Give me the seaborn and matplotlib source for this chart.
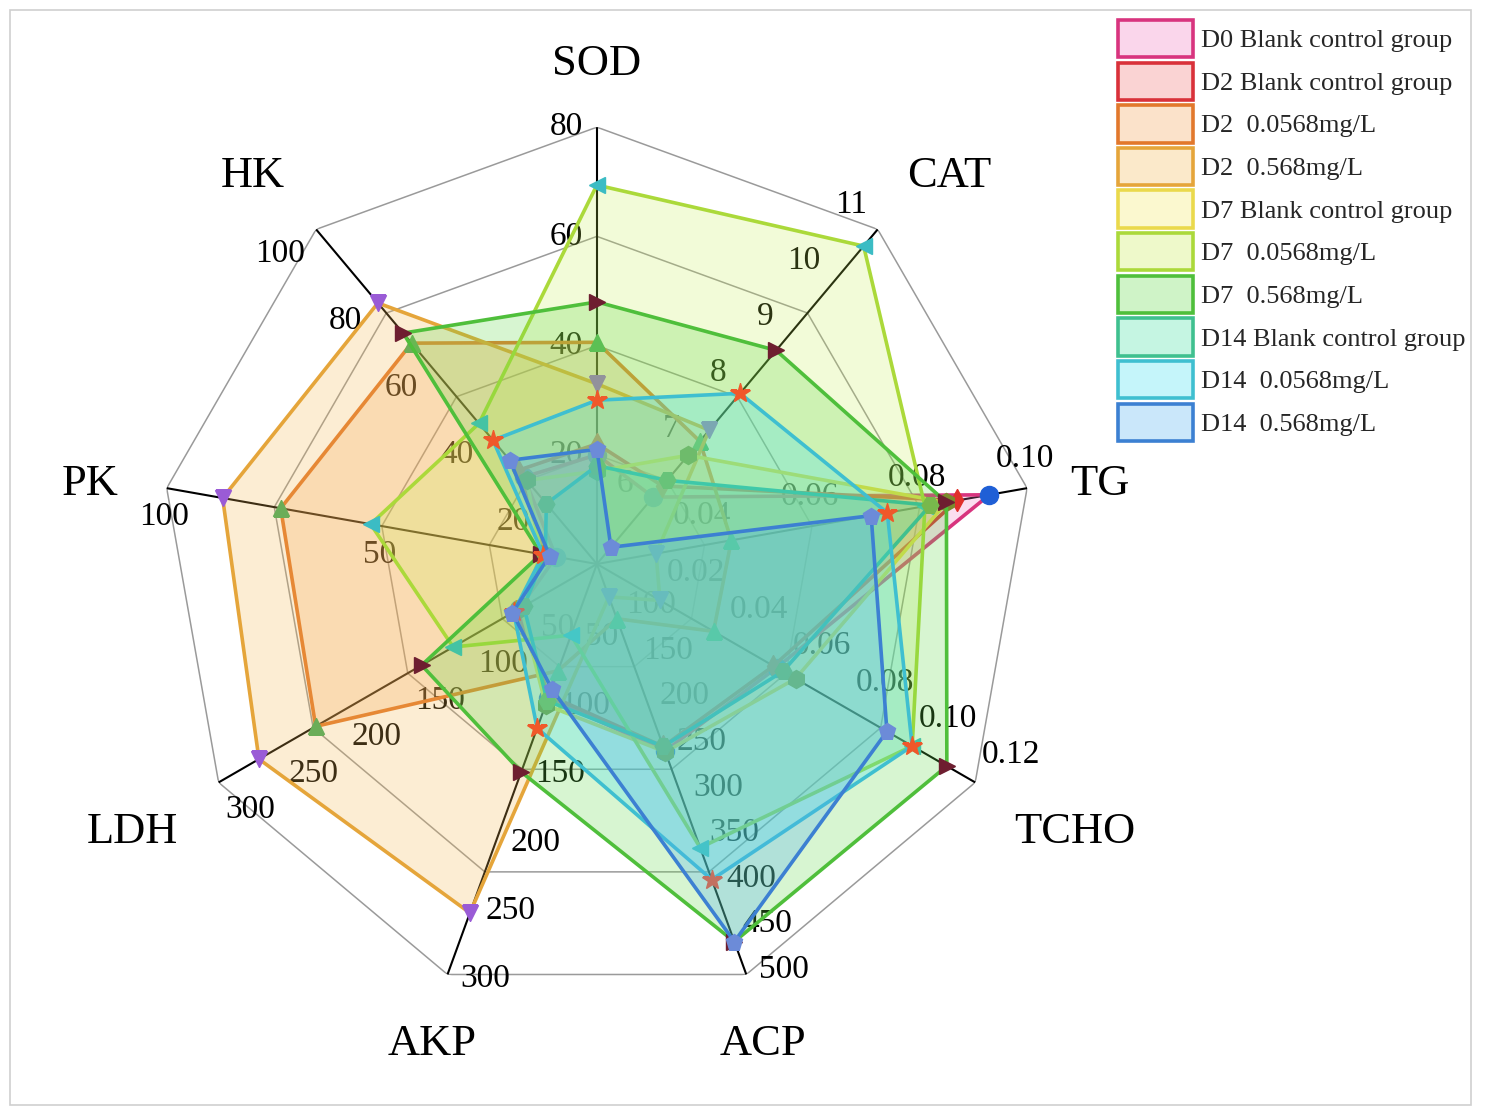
import numpy as np
import matplotlib
matplotlib.use("Agg")
import matplotlib.pyplot as plt
from matplotlib.patches import Patch, Rectangle
import seaborn as sns

# radar axes, clockwise from the top, each with its own scale
indicators = ["SOD", "CAT", "TG", "TCHO", "ACP", "AKP", "LDH", "PK", "HK"]
axis_low = [0, 5, 0.02, 0, 50, 0, 0, 0, 0]
axis_high = [80, 11, 0.10, 0.12, 500, 300, 300, 100, 100]

# tick labels written along each axis
ticks_sod = ["20", "40", "60", "80"]
ticks_cat = ["6", "7", "8", "9", "10", "11"]
ticks_tg = ["0.04", "0.06", "0.08", "0.10"]
ticks_tcho = ["0.02", "0.04", "0.06", "0.08", "0.10", "0.12"]
ticks_acp = ["100", "150", "200", "250", "300", "350", "400", "450", "500"]
ticks_akp = ["50", "100", "150", "200", "250", "300"]
ticks_ldh = ["50", "100", "150", "200", "250", "300"]
ticks_pk = ["50", "100"]
ticks_hk = ["20", "40", "60", "80", "100"]
all_ticks = [ticks_sod, ticks_cat, ticks_tg, ticks_tcho, ticks_acp,
             ticks_akp, ticks_ldh, ticks_pk, ticks_hk]

groups = ["D0 Blank control group", "D2 Blank control group", "D2  0.0568mg/L",
          "D2  0.568mg/L", "D7 Blank control group", "D7  0.0568mg/L",
          "D7  0.568mg/L", "D14 Blank control group", "D14  0.0568mg/L",
          "D14  0.568mg/L"]

#            SOD  CAT   TG     TCHO   ACP  AKP  LDH  PK    HK
d0_blank =   [20, 6.2,  0.093, 0.057, 255, 98,  62,  9.5,  26]
d2_blank =   [22, 6.4,  0.087, 0.056, 250, 96,  64,  12,   28]
d2_low =     [40.6, 7.2, 0.045, 0.037, 110, 78, 223, 73.5, 66]
d2_high =    [33, 7.4,  0.031, 0.020, 86,  255, 268, 87,   78]
d7_blank =   [17, 6.95, 0.085, 0.063, 256, 103, 60,  13,   25]
d7_low =     [69.4, 10.7, 0.081, 0.100, 361, 52, 114, 52.6, 42]
d7_high =    [48, 8.83, 0.085, 0.111, 464, 152, 139, 13,   69]
d14_blank =  [18, 6.5,  0.082, 0.059, 250, 100, 58,  12,   18]
d14_low =    [30, 8.06, 0.074, 0.100, 396, 120, 66,  12.5, 37]
d14_high =   [21, 5.3,  0.071, 0.092, 464, 91,  67,  11,   31]
all_series = [d0_blank, d2_blank, d2_low, d2_high, d7_blank,
              d7_low, d7_high, d14_blank, d14_low, d14_high]

sns.set_theme(style="white")
plt.rcParams['font.family'] = ['Liberation Serif', 'DejaVu Serif']

line_colors = sns.color_palette(["#d8347e", "#d9313a", "#e2782c", "#e5a53a", "#ead94c",
                                 "#abd93a", "#4fbf3b", "#3fc08f", "#3fbfd0", "#3c80d2"])
fill_colors = sns.color_palette(["#f07ac0", "#f07070", "#f5a050", "#f5b850", "#f5e860",
                                 "#c8ee50", "#60d848", "#40e0a0", "#40e0f0", "#50b0f0"])
fill_alpha = [0.25, 0.25, 0.25, 0.25, 0.25, 0.22, 0.25, 0.28, 0.28, 0.28]
marker_colors = ["#1f5fd6", "#e0302a", "#3daa5c", "#9a5bd6", "#7b8a2c",
                 "#3bbcc4", "#6e1e30", "#78b84c", "#f0582a", "#6c8bd8"]
marker_shapes = ["o", "d", "^", "v", "h", "<", ">", "H", "*", "p"]
marker_sizes = [13, 11, 12, 12, 13, 12, 12, 12, 15, 12]

n = len(indicators)
theta = np.deg2rad(np.arange(n) * 360.0 / n)
theta_closed = np.append(theta, theta[0])


def scale(values):
    v = np.array(values, dtype=float)
    return (v - np.array(axis_low)) / (np.array(axis_high) - np.array(axis_low))


fig = plt.figure(figsize=(14.96, 11.12), dpi=100)
ax = fig.add_axes([0.107, 0.0998, 0.584, 0.786], projection='polar')
ax.set_theta_zero_location('N')
ax.set_theta_direction(-1)
ax.set_ylim(0, 1)
ax.grid(False)
ax.set_xticks([])
ax.set_yticks([])
ax.spines['polar'].set_visible(False)
ax.set_facecolor('none')

# nonagon rings and spokes
for f in [0.25, 0.5, 0.75, 1.0]:
    ax.plot(theta_closed, [f] * (n + 1), color='#9a9a9a', lw=1.1, zorder=1)
for th in theta:
    ax.plot([th, th], [0, 1], color='black', lw=1.5, zorder=1)

# tick labels beside each axis
for i, labels in enumerate(all_ticks):
    phi = np.deg2rad(90 - 40 * i + 90)
    ux, uy = np.cos(phi), np.sin(phi)
    ha = 'left' if ux > 0.3 else ('right' if ux < -0.3 else 'center')
    va = 'bottom' if uy > 0.5 else ('top' if uy < -0.5 else 'center')
    for lab in labels:
        r = (float(lab) - axis_low[i]) / (axis_high[i] - axis_low[i])
        ax.annotate(lab, xy=(theta[i], r), xytext=(10 * ux, 10 * uy),
                    textcoords='offset points', ha=ha, va=va,
                    fontsize=24, color='black', zorder=1.5,
                    annotation_clip=False)

# axis names (compass angle in degrees, radius)
name_angle = [0, 42.3, 81.0, 119.3, 160.9, 199.0, 240.0, 279.0, 318.4]
name_radius = [1.144, 1.20, 1.165, 1.254, 1.162, 1.162, 1.228, 1.175, 1.188]
for i, name in enumerate(indicators):
    ax.text(np.deg2rad(name_angle[i]), name_radius[i], name, ha='center', va='center',
            fontsize=32, color='black')

# series
for k, vals in enumerate(all_series):
    r = scale(vals)
    r_closed = np.append(r, r[0])
    ax.fill(theta_closed, r_closed, color=fill_colors[k], alpha=fill_alpha[k], lw=0,
            zorder=2 + k)
    ax.plot(theta_closed, r_closed, color=line_colors[k], lw=2.6, zorder=2 + k)
    ax.plot(theta, r, ls='none', marker=marker_shapes[k], ms=marker_sizes[k],
            color=marker_colors[k], mec=marker_colors[k], zorder=2 + k)

handles = [Patch(facecolor=(*fill_colors[k], 0.3), edgecolor=line_colors[k], lw=2.6)
           for k in range(len(groups))]
fig.legend(handles, groups, loc='upper left', bbox_to_anchor=(0.7473, 0.982),
           frameon=False, fontsize=19, handlelength=2.84, handleheight=1.8,
           labelspacing=0.2, handletextpad=0.3, borderpad=0, borderaxespad=0)

fig.patches.append(Rectangle((0.007, 0.006), 0.976, 0.985, transform=fig.transFigure,
                             fill=False, edgecolor='#cfcfcf', lw=1.2))

fig.savefig('out.png', dpi=100)
